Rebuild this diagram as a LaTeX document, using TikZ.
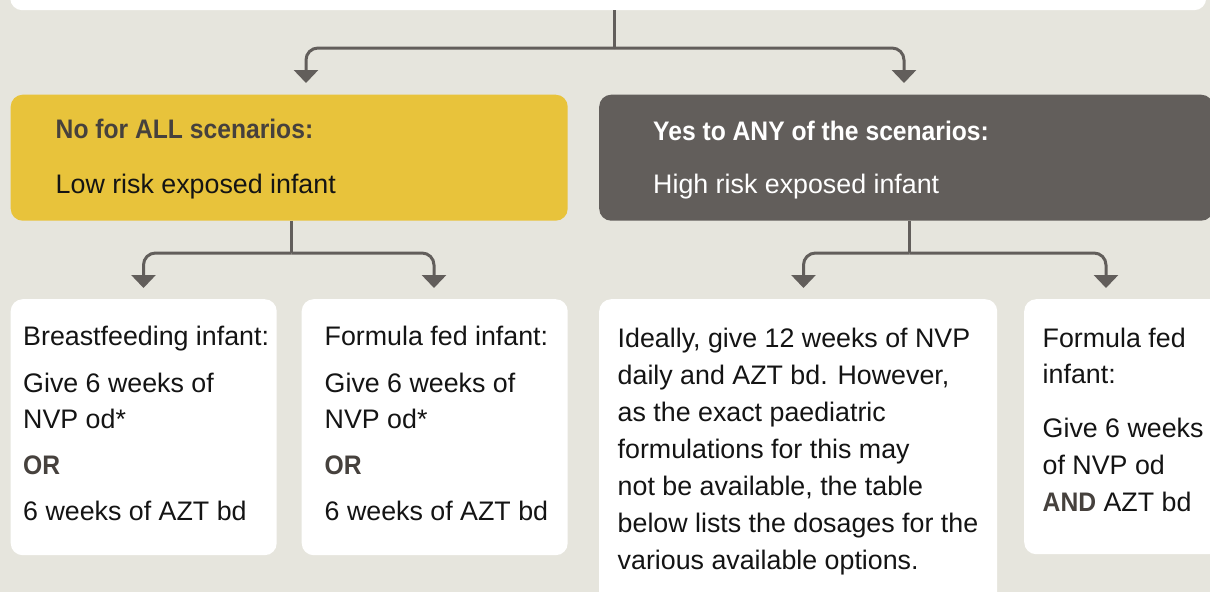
\documentclass[tikz,border=0pt]{standalone}
\usepackage{fontspec}
\setmainfont{Liberation Sans}[BoldFeatures={FakeStretch=0.92}]
\usetikzlibrary{arrows.meta}
\definecolor{bgc}{HTML}{E6E5DD}
\definecolor{yel}{HTML}{E8C33B}
\definecolor{drk}{HTML}{625E5B}
\definecolor{hdr}{HTML}{46413D}
\definecolor{ink}{HTML}{141414}
\tikzset{
  conn/.style={draw=drk, line width=3pt, rounded corners=12pt, -{Triangle[width=24pt,length=13pt]}},
  stem/.style={draw=drk, line width=3pt},
  box/.style={rounded corners=12pt, inner sep=0pt, anchor=north west},
  wbox/.style={box, fill=white},
  txt/.style={inner sep=0pt, anchor=base west, font=\fontsize{26.8}{32}\selectfont, text=ink},
  hd/.style={txt, font=\fontsize{26.8}{32}\selectfont\bfseries, text=hdr},
  bd/.style={txt, font=\fontsize{26.8}{32}\selectfont\bfseries, text=hdr}
}
\begin{document}
\begin{tikzpicture}[x=1pt,y=-1pt]
\useasboundingbox[fill=bgc] (0,0) rectangle (1210,592);
% top box
\node[wbox, minimum width=1196pt, minimum height=34pt] (tb) at (10,-24) {};
% second level
\node[box, fill=yel, minimum width=557pt, minimum height=126pt] (yb) at (10.5,94.5) {};
\node[box, fill=drk, minimum width=614pt, minimum height=126pt] (gb) at (599,94.5) {};
% third level
\node[wbox, minimum width=266pt, minimum height=256pt] (b1) at (10.5,299) {};
\node[wbox, minimum width=266pt, minimum height=256pt] (b2) at (301.5,299) {};
\node[wbox, minimum width=398pt, minimum height=320pt] (b3) at (599,299) {};
\node[wbox, minimum width=200pt, minimum height=255pt] (b4) at (1024,299) {};

% connectors
\coordinate (j0) at (614,48);
\coordinate (t1) at (306,83);
\coordinate (t2) at (904,83);
\draw[stem] (tb.south -| j0) -- (j0);
\draw[conn] (j0) -| (t1);
\draw[conn] (j0) -| (t2);

\coordinate (j1) at (291.5,253);
\coordinate (t3) at (143.5,288);
\coordinate (t4) at (434,288);
\draw[stem] (yb.south -| j1) -- (j1);
\draw[conn] (j1) -| (t3);
\draw[conn] (j1) -| (t4);

\coordinate (j2) at (909.5,253);
\coordinate (t5) at (803.5,288);
\coordinate (t6) at (1106,288);
\draw[stem] (gb.south -| j2) -- (j2);
\draw[conn] (j2) -| (t5);
\draw[conn] (j2) -| (t6);

% header texts
\node[hd] (yh1) at (55.5,138.5) {No for ALL scenarios:};
\node[txt] (yh2) at (55.5,193.5) {Low risk exposed infant};
\node[hd, text=white] (gh1) at (653,140) {Yes to ANY of the scenarios:};
\node[txt, text=white] (gh2) at (653,193.5) {High risk exposed infant};

% box 1
\node[txt] (a1) at (23,345) {Breastfeeding infant:};
\node[txt] (a2) at (23,392) {Give 6 weeks of};
\node[txt] (a3) at (23,428.5) {NVP od*};
\node[bd]  (a4) at (23,474.5) {OR};
\node[txt] (a5) at (23,520.5) {6 weeks of AZT bd};
% box 2
\node[txt] (c1) at (324.5,345) {Formula fed infant:};
\node[txt] (c2) at (324.5,392) {Give 6 weeks of};
\node[txt] (c3) at (324.5,428.5) {NVP od*};
\node[bd]  (c4) at (324.5,474.5) {OR};
\node[txt] (c5) at (324.5,520.5) {6 weeks of AZT bd};
% box 3
\node[txt] (d1) at (617.5,347) {Ideally, give 12 weeks of NVP};
\node[txt] (d2) at (617.5,384) {daily and AZT bd. However,};
\node[txt] (d3) at (617.5,421.5) {as the exact paediatric};
\node[txt] (d4) at (617.5,458.5) {formulations for this may};
\node[txt] (d5) at (617.5,495.5) {not be available, the table};
\node[txt] (d6) at (617.5,532.5) {below lists the dosages for the};
\node[txt] (d7) at (617.5,569.5) {various available options.};
% box 4
\node[txt] (e1) at (1042.5,347) {Formula fed};
\node[txt] (e2) at (1042.5,383.5) {infant:};
\node[txt] (e3) at (1042.5,437) {Give 6 weeks};
\node[txt] (e4) at (1042.5,474) {of NVP od};
\node[txt] (e5) at (1042.5,511) {\textbf{\color{hdr}AND} AZT bd};
\end{tikzpicture}
\end{document}
